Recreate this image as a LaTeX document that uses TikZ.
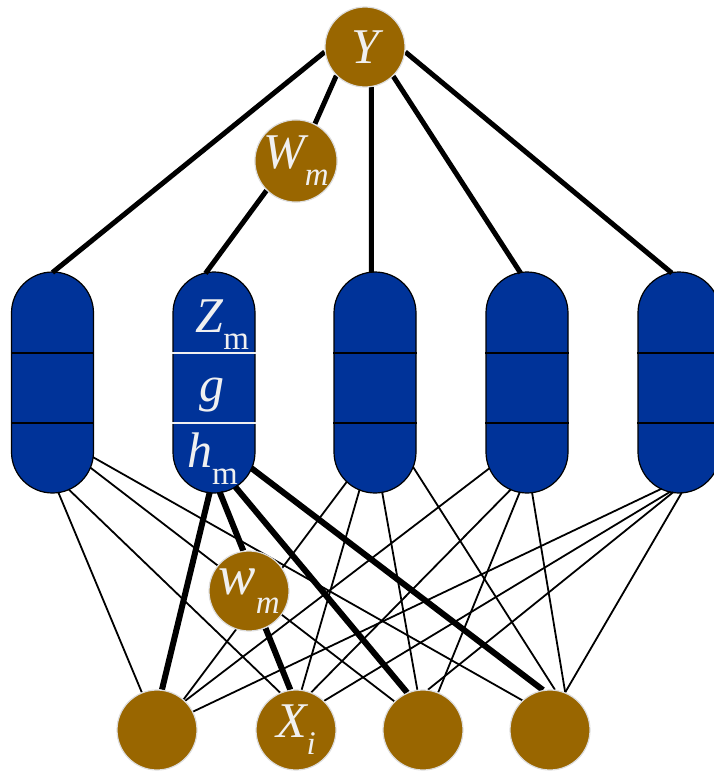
\documentclass[tikz,border=0pt]{standalone}
\usepackage{fontspec}
\setmainfont{Liberation Serif}
\usetikzlibrary{backgrounds}
\definecolor{capblue}{HTML}{003399}
\definecolor{unitbrown}{HTML}{996600}
\definecolor{halo}{HTML}{DDDDDD}
\definecolor{labelgrey}{HTML}{F0F0F0}
% lowered, smaller subscript in the current shape
\newcommand{\lsub}[1]{\raisebox{-0.34em}{\fontsize{33}{33}\selectfont #1}}
\tikzset{
  unit/.style={circle, fill=unitbrown, draw=halo, line width=1.2pt,
    minimum size=80pt, inner sep=0pt, text=labelgrey,
    font=\fontsize{50}{50}\selectfont\itshape},
  capsule/.style={rectangle, rounded corners=41pt, fill=capblue, draw=black,
    line width=1.2pt, minimum width=82pt, minimum height=221pt},
  arcport/.style={circle, minimum size=82pt, inner sep=0pt, outer sep=0pt},
  thin link/.style={line width=1.8pt},
  heavy link/.style={line width=5pt},
  heavier link/.style={line width=6pt},
  divider/.style={line width=1.2pt},
  caplabel/.style={text=labelgrey, inner sep=0pt, anchor=base west,
    font=\fontsize{50}{50}\selectfont}
}
\begin{document}
\begin{tikzpicture}[x=1pt,y=-1pt]
\useasboundingbox (0,0) rectangle (713,771);
\clip (0,0) rectangle (713,771);

% output, weight and input units
\node[unit] (Y)  at (365,47)  {Y};
\node[unit] (Wm) at (296,161) {W\lsub{m}};
\node[unit, font=\fontsize{56}{56}\selectfont\itshape] (wm) at (249,591) {w\lsub{m}};
\node[unit] (b1) at (157,730) {};
\node[unit] (xi) at (296,730) {X\lsub{i}};
\node[unit] (b3) at (423,730) {};
\node[unit] (b4) at (550,730) {};

\begin{pgfonlayer}{background}
  % hidden units: capsules with ports at their rounded ends
  \foreach \n/\x in {1/52.5,2/214,3/375,4/527,5/679} {
    \node[capsule] (c\n) at (\x,382.5) {};
    \node[arcport] (ct\n) at (\x,313.5) {};
    \node[arcport] (cb\n) at (\x,451.5) {};
  }
  \foreach \n in {1,3,4,5} {
    \draw[divider] ([yshift=29.5pt]c\n.west) -- ([yshift=29.5pt]c\n.east);
    \draw[divider] ([yshift=-40.5pt]c\n.west) -- ([yshift=-40.5pt]c\n.east);
  }
  \draw[divider, labelgrey] ([yshift=29.5pt]c2.west) -- ([yshift=29.5pt]c2.east);
  \draw[divider, labelgrey] ([yshift=-40.5pt]c2.west) -- ([yshift=-40.5pt]c2.east);

  % thin links from hidden units to inputs
  \draw[thin link] (cb1.-82)  -- (b1.112);
  \draw[thin link] (cb1.-67)  -- (xi.113);
  \draw[thin link] (cb1.-23)  -- (b3.135);
  \draw[thin link] (cb1.-8)   -- (b4.133);
  \draw[thin link] (cb3.-133) -- (b1.49);
  \draw[thin link] (cb3.-112) -- (xi.82);
  \draw[thin link] (cb3.-80)  -- (b3.98);
  \draw[thin link] (cb3.-22)  -- (b4.83);
  \draw[thin link] (cb4.-156) -- (b1.46);
  \draw[thin link] (cb4.-113) -- (xi.68);
  \draw[thin link] (cb4.-100) -- (b3.68);
  \draw[thin link] (cb4.-83)  -- (b4.68);
  \draw[thin link] (cb5.-115) -- (b1.27);
  \draw[thin link] (cb5.-102) -- (xi.46);
  \draw[thin link] (cb5.-98)  -- (b3.83);
  \draw[thin link] (cb5.-86)  -- (b4.68);

  % highlighted hidden unit m
  \draw[heavier link] (cb2.-96) -- (b1.83);
  \draw[heavier link] (cb2.-82) -- (wm.98);
  \draw[heavier link] (wm.-66)  -- (xi.98);
  \draw[heavier link] (cb2.-59) -- (b3.113);
  \draw[heavier link] (cb2.-24) -- (b4.100);

  % links from the output
  \draw[heavy link] (Y.-173) -- (ct1.90);
  \draw[heavy link] (Y.-135) -- (Wm.63);
  \draw[heavy link] (Wm.-135) -- (ct2.102);
  \draw[heavy link] (Y.-81)  -- (ct3.95);
  \draw[heavy link] (Y.-46)  -- (ct4.99);
  \draw[heavy link] (Y.-7)   -- (ct5.100);
\end{pgfonlayer}

% labels of hidden unit m
\node[caplabel] (zlab) at (195,332) {\textit{Z}\lsub{m}};
\node[caplabel] (glab) at (199,401) {\textit{g}};
\node[caplabel] (hlab) at (187,467) {\textit{h}\lsub{m}};
\end{tikzpicture}
\end{document}
